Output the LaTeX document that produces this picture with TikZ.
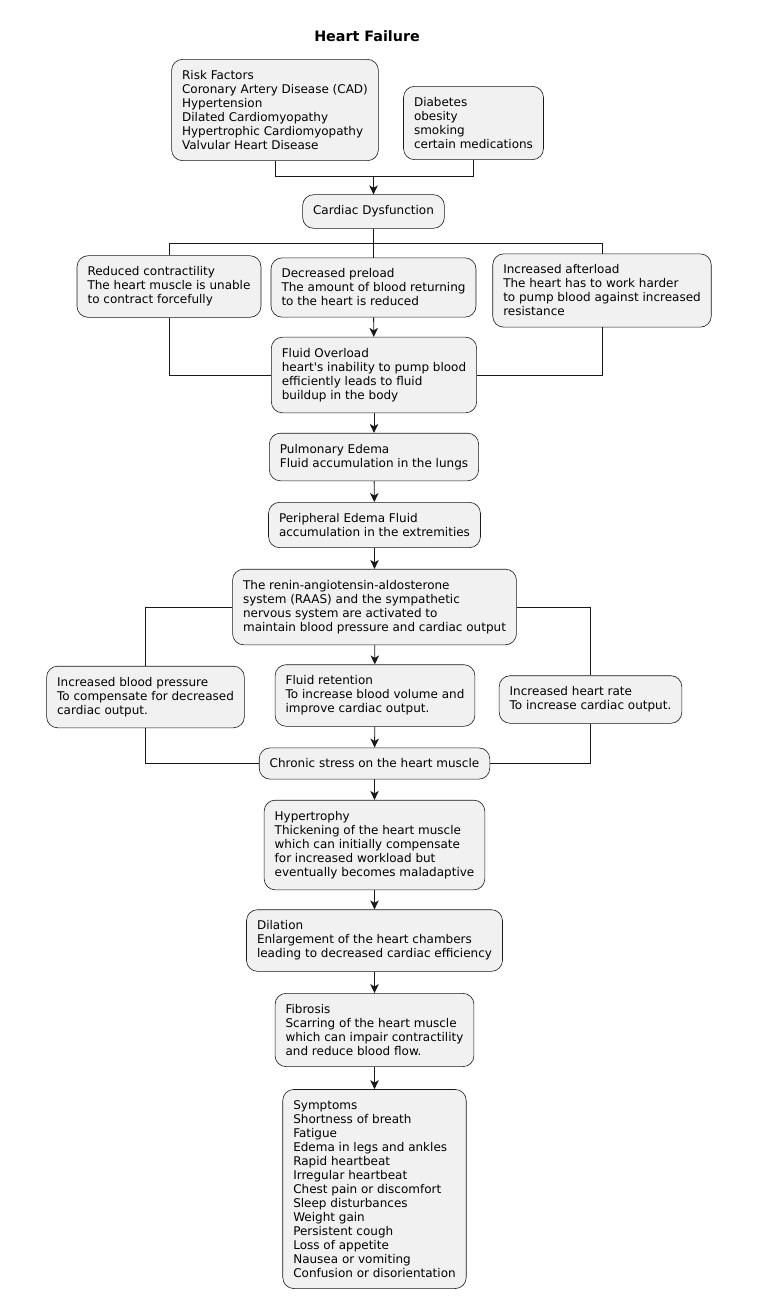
\documentclass[tikz,border=0pt]{standalone}
\usepackage{fontspec}
\setmainfont{DejaVu Sans}
\usetikzlibrary{shapes,arrows.meta}
\definecolor{actfill}{HTML}{F1F1F1}
\definecolor{actline}{HTML}{181818}

\begin{document}
\begin{tikzpicture}[x=1pt,y=-1pt]
\tikzset{act/.style={draw=actline,fill=actfill,rounded corners=11pt,line width=0.6pt,
  align=left,inner xsep=10.5pt,inner ysep=11pt,font=\fontsize{12}{14}\selectfont}}
\tikzset{flow/.style={draw=actline,line width=0.9pt}}
\tikzset{arr/.style={flow,-{Stealth[length=9pt,width=8.5pt,inset=2.5pt]}}}
\useasboundingbox (0,0) rectangle (766,1315);
\node (title) at (367,36) {\fontsize{14.3}{16}\selectfont\bfseries Heart Failure};
% risk factors
\node[act] (risk) at (275,110) {Risk Factors\\Coronary Artery Disease (CAD)\\Hypertension\\Dilated Cardiomyopathy\\Hypertrophic Cardiomyopathy\\Valvular Heart Disease};
\node[act] (diab) at (473.5,123) {Diabetes\\obesity\\smoking\\certain medications};
\node[act] (cardiac) at (373.5,211.5) {Cardiac Dysfunction};
% three causes
\node[act] (reduced) at (169,286.5) {Reduced contractility\\The heart muscle is unable\\to contract forcefully};
\node[act] (preload) at (373.5,287.5) {Decreased preload\\The amount of blood returning\\to the heart is reduced};
\node[act] (afterload) at (602,290.5) {Increased afterload\\The heart has to work harder\\to pump blood against increased\\resistance};
\node[act] (fluid) at (374,375) {Fluid Overload\\heart\textquotesingle s inability to pump blood\\efficiently leads to fluid\\buildup in the body};
\node[act] (pulm) at (374,457) {Pulmonary Edema\\Fluid accumulation in the lungs};
\node[act] (periph) at (374.5,525) {Peripheral Edema Fluid\\accumulation in the extremities};
\node[act] (raas) at (374.5,607) {The renin-angiotensin-aldosterone\\system (RAAS) and the sympathetic\\nervous system are activated to\\maintain blood pressure and cardiac output};
% compensation
\node[act] (bp) at (145.5,697) {Increased blood pressure\\To compensate for decreased\\cardiac output.};
\node[act] (retention) at (375,695.5) {Fluid retention\\To increase blood volume and\\improve cardiac output.};
\node[act] (rate) at (590.5,699.5) {Increased heart rate\\To increase cardiac output.};
\node[act] (chronic) at (374.5,763.5) {Chronic stress on the heart muscle};
\node[act] (hyper) at (374.5,845) {Hypertrophy\\Thickening of the heart muscle\\which can initially compensate\\for increased workload but\\eventually becomes maladaptive};
\node[act] (dilation) at (374.5,940.5) {Dilation\\Enlargement of the heart chambers\\leading to decreased cardiac efficiency};
\node[act] (fibrosis) at (374.5,1030) {Fibrosis\\Scarring of the heart muscle\\which can impair contractility\\and reduce blood flow.};
\node[act] (symptoms) at (374.5,1189) {Symptoms\\Shortness of breath\\Fatigue\\Edema in legs and ankles\\Rapid heartbeat\\Irregular heartbeat\\Chest pain or discomfort\\Sleep disturbances\\Weight gain\\Persistent cough\\Loss of appetite\\Nausea or vomiting\\Confusion or disorientation};
% joins and forks
\coordinate (join1) at (373.5,176);
\coordinate (fork1) at (373.5,243);
\draw[flow] (risk.south) |- (join1);
\draw[flow] (diab.south) |- (join1);
\draw[arr] (join1) -- (cardiac.north);
\draw[flow] (cardiac.south) -- (fork1);
\draw[flow] (fork1) -| (reduced.north);
\draw[flow] (fork1) -| (afterload.north);
\draw[flow] (fork1) -- (preload.north);
\draw[flow] (reduced.south) |- (fluid.west);
\draw[flow] (afterload.south) |- (fluid.east);
\draw[arr] (preload) -- (fluid);
\draw[arr] (fluid) -- (pulm);
\draw[arr] (pulm) -- (periph);
\draw[arr] (periph) -- (raas);
\draw[flow] (raas.west) -| (bp.north);
\draw[flow] (raas.east) -| (rate.north);
\draw[arr] (raas) -- (retention);
\draw[flow] (bp.south) |- (chronic.west);
\draw[flow] (rate.south) |- (chronic.east);
\draw[arr] (retention) -- (chronic);
\draw[arr] (chronic) -- (hyper);
\draw[arr] (hyper) -- (dilation);
\draw[arr] (dilation) -- (fibrosis);
\draw[arr] (fibrosis) -- (symptoms);
\end{tikzpicture}
\end{document}
